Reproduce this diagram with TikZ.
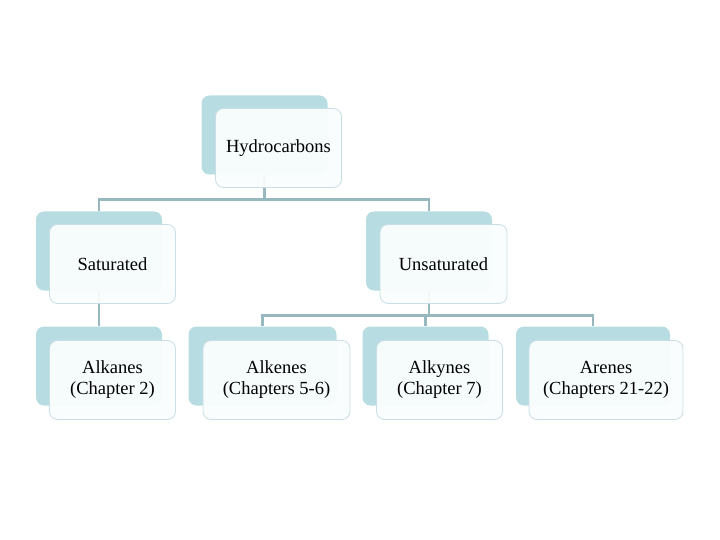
\documentclass[tikz,border=0pt]{standalone}
\usepackage{fontspec}
\setmainfont{Liberation Serif}
\definecolor{backc}{RGB}{183,221,227}
\definecolor{linec}{RGB}{150,184,190}
\definecolor{framec}{RGB}{200,222,228}
\definecolor{frontc}{RGB}{250,253,254}
\begin{document}
\begin{tikzpicture}[x=1pt,y=1pt,
  backbox/.style={fill=backc, rounded corners=8pt, inner sep=0pt, minimum height=79pt},
  frontbox/.style={fill=frontc, fill opacity=0.94, text opacity=1, draw=framec, line width=0.8pt, rounded corners=8pt, inner sep=0pt, minimum height=79pt, align=center, font=\fontsize{18.5}{21}\selectfont},
  conn/.style={draw=linec, line width=2.6pt}]
\useasboundingbox (0,0) rectangle (720,-540);
% back boxes
\node[backbox, minimum width=126pt] (hb) at (264.5,-135) {};
\node[backbox, minimum width=126pt] (sb) at (99,-251) {};
\node[backbox, minimum width=126pt] (ub) at (429,-251) {};
\node[backbox, minimum width=126pt] (ab1) at (99,-366) {};
\node[backbox, minimum width=148pt] (ab2) at (262.5,-366) {};
\node[backbox, minimum width=126pt] (ab3) at (425.5,-366) {};
\node[backbox, minimum width=154pt] (ab4) at (593,-366) {};
% connectors
\draw[conn] (hb.south) -- ++(0,-25) -| (sb.north);
\draw[conn] (hb.south) -- ++(0,-25) -| (ub.north);
\draw[conn] (sb.south) -- (ab1.north);
\draw[conn] (ub.south) -- ++(0,-25) -| (ab2.north);
\draw[conn] (ub.south) -- ++(0,-25) -| (ab3.north);
\draw[conn] (ub.south) -- ++(0,-25) -| (ab4.north);
% front boxes
\node[frontbox, minimum width=126pt] (h) at (278.5,-148) {Hydrocarbons};
\node[frontbox, minimum width=126pt] (s) at (112.5,-264) {Saturated};
\node[frontbox, minimum width=127pt] (u) at (443.5,-264) {Unsaturated};
\node[frontbox, minimum width=126pt] (a1) at (112.5,-380) {Alkanes\\(Chapter 2)};
\node[frontbox, minimum width=147pt] (a2) at (276.5,-380) {Alkenes\\(Chapters 5-6)};
\node[frontbox, minimum width=126pt] (a3) at (439.5,-380) {Alkynes\\(Chapter 7)};
\node[frontbox, minimum width=154pt] (a4) at (606,-380) {Arenes\\(Chapters 21-22)};
\end{tikzpicture}
\end{document}
